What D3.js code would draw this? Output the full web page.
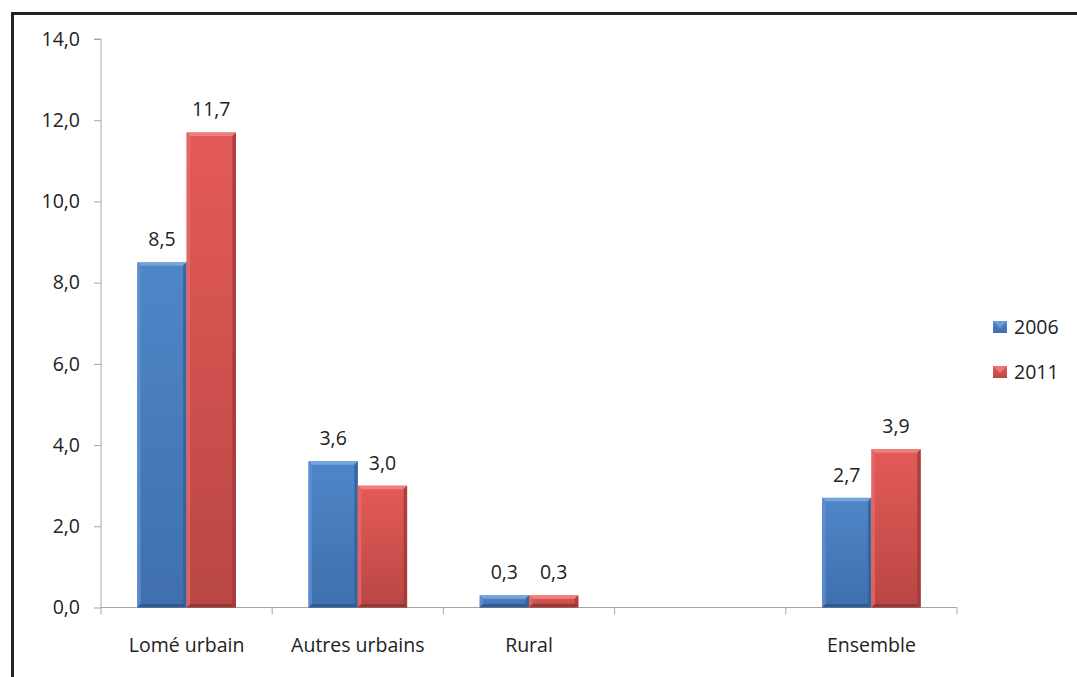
<!DOCTYPE html>
<html>
<head>
<meta charset="utf-8">
<script src="https://cdn.jsdelivr.net/npm/d3@7"></script>
<style>
  html, body { margin: 0; padding: 0; background: #fff; }
  svg { display: block; }
  text { font-family: "Open Sans", sans-serif; fill: #222; }
</style>
</head>
<body>
<script>
const categories = ["Lomé urbain", "Autres urbains", "Rural", "", "Ensemble"];
const seriesNames = ["2006", "2011"];
const values2006 = [8.5, 3.6, 0.3, null, 2.7];
const values2011 = [11.7, 3.0, 0.3, null, 3.9];
const yTicks = [0, 2, 4, 6, 8, 10, 12, 14];

const width = 1077, height = 677;
const fontSize = 19.5;
const fmt = v => v.toFixed(1).replace(".", ",");

const palette = {
  "2006": { face0: "#4f86c8", face1: "#3f6fae", top: "#7aa6dc", left: "#5d90cf", right: "#345f97", bottom: "#2f5588" },
  "2011": { face0: "#e45b58", face1: "#b94644", top: "#ee8582", left: "#e56a67", right: "#9e3a38", bottom: "#8f3432" }
};

const svg = d3.select("body").append("svg")
  .attr("width", width)
  .attr("height", height);

// frame lines (top and left)
svg.append("line").attr("x1", 12.5).attr("x2", width).attr("y1", 13.5).attr("y2", 13.5)
  .attr("stroke", "#222").attr("stroke-width", 3);
svg.append("line").attr("x1", 12.5).attr("x2", 12.5).attr("y1", 12).attr("y2", height)
  .attr("stroke", "#222").attr("stroke-width", 3);

const defs = svg.append("defs");
seriesNames.forEach(s => {
  const g = defs.append("linearGradient").attr("id", "grad" + s)
    .attr("x1", 0).attr("x2", 0).attr("y1", 0).attr("y2", 1);
  g.append("stop").attr("offset", "0%").attr("stop-color", palette[s].face0);
  g.append("stop").attr("offset", "100%").attr("stop-color", palette[s].face1);
});

const x0 = d3.scaleBand().domain(categories.map((c, i) => i)).range([101, 957]).padding(0);
const x1 = d3.scaleBand().domain(seriesNames).range([0, x0.bandwidth()])
  .paddingInner(0).paddingOuter(0.736);
const y = d3.scaleLinear().domain([0, 14]).range([607.5, 39]);

// y axis
const yAxis = svg.append("g").attr("transform", "translate(101,0)")
  .call(d3.axisLeft(y).tickValues(yTicks).tickFormat(fmt).tickSize(7).tickPadding(14));
yAxis.select(".domain").attr("stroke", "#a6a6a6").attr("d", `M-7,${y(14)}H0V${y(0)}`);
yAxis.selectAll(".tick line").attr("stroke", "#a6a6a6");
yAxis.selectAll(".tick text").attr("font-size", fontSize).attr("font-family", "'Open Sans', sans-serif").attr("fill", "#222");

// x axis
const xAxis = svg.append("g").attr("transform", `translate(0,${y(0)})`);
xAxis.append("line").attr("x1", 101).attr("x2", 957).attr("y1", 0).attr("y2", 0).attr("stroke", "#a6a6a6");
const boundaries = categories.map((c, i) => x0(i)).concat([x0(categories.length - 1) + x0.bandwidth()]);
xAxis.selectAll(".xt").data(boundaries).join("line")
  .attr("x1", d => d).attr("x2", d => d).attr("y1", 0).attr("y2", 7).attr("stroke", "#a6a6a6");
xAxis.selectAll(".xl").data(categories).join("text")
  .attr("x", (d, i) => x0(i) + x0.bandwidth() / 2)
  .attr("y", 44)
  .attr("text-anchor", "middle")
  .attr("font-size", fontSize)
  .text(d => d);

// bars
const rows = [];
categories.forEach((c, i) => {
  [values2006[i], values2011[i]].forEach((v, k) => {
    if (v != null) rows.push({ i, s: seriesNames[k], v });
  });
});

const bars = svg.append("g").selectAll("g").data(rows).join("g");
bars.each(function (d) {
  const g = d3.select(this);
  const bx = x0(d.i) + x1(d.s), bw = x1.bandwidth();
  const by = y(d.v), bh = y(0) - y(d.v);
  const p = palette[d.s];
  const b = Math.min(3.5, bh / 2);
  g.append("rect").attr("x", bx).attr("y", by).attr("width", bw).attr("height", bh)
    .attr("fill", `url(#grad${d.s})`);
  const X0 = bx, X1 = bx + bw, Y0 = by, Y1 = by + bh;
  g.append("path").attr("fill", p.top).attr("opacity", 0.9)
    .attr("d", `M${X0},${Y0}H${X1}L${X1 - b},${Y0 + b}H${X0 + b}Z`);
  g.append("path").attr("fill", p.left).attr("opacity", 0.8)
    .attr("d", `M${X0},${Y0}L${X0 + b},${Y0 + b}V${Y1 - b}L${X0},${Y1}Z`);
  g.append("path").attr("fill", p.right).attr("opacity", 0.8)
    .attr("d", `M${X1},${Y0}L${X1 - b},${Y0 + b}V${Y1 - b}L${X1},${Y1}Z`);
  g.append("path").attr("fill", p.bottom).attr("opacity", 0.8)
    .attr("d", `M${X0},${Y1}L${X0 + b},${Y1 - b}H${X1 - b}L${X1},${Y1}Z`);
  g.append("text")
    .attr("x", bx + bw / 2)
    .attr("y", by - 16)
    .attr("text-anchor", "middle")
    .attr("font-size", fontSize)
    .text(fmt(d.v));
});

// legend
const legend = svg.append("g").attr("transform", "translate(993,0)");
const ly = d3.scalePoint().domain(seriesNames).range([327, 372]);
seriesNames.forEach(s => {
  const g = legend.append("g").attr("transform", `translate(0,${ly(s)})`);
  g.append("rect").attr("x", 0).attr("y", -6).attr("width", 14).attr("height", 12)
    .attr("fill", `url(#grad${s})`);
  g.append("path").attr("fill", palette[s].top)
    .attr("d", "M0,-6H14L7,1Z").attr("opacity", 0.7);
  g.append("text").attr("x", 21).attr("y", 7).attr("font-size", fontSize).text(s);
});
</script>
</body>
</html>
